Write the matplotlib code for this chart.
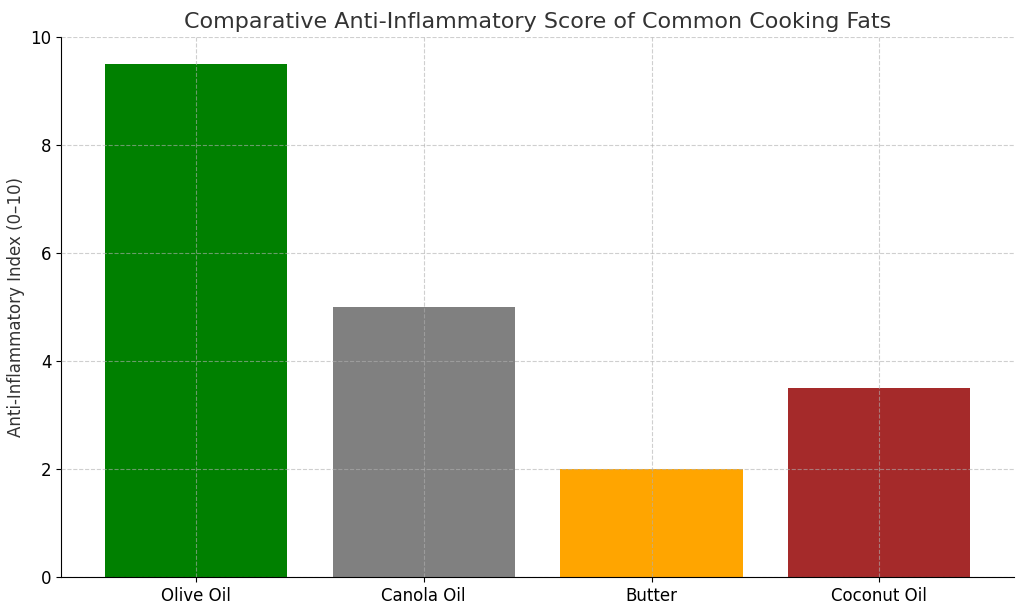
import matplotlib.pyplot as plt

categories = ["Olive Oil", "Canola Oil", "Butter", "Coconut Oil"]
scores = [9.5, 5.0, 2.0, 3.5]
colors = ["green", "gray", "orange", "brown"]

fig, ax = plt.subplots(figsize=(10.24, 6.11), dpi=100)
ax.bar(categories, scores, color=colors, zorder=2)
ax.set_ylim(0, 10)
ax.set_title("Comparative Anti-Inflammatory Score of Common Cooking Fats", fontsize=16, color="#333333")
ax.set_ylabel("Anti-Inflammatory Index (0–10)", fontsize=12, color="#333333")
ax.grid(True, linestyle="--", alpha=0.6, zorder=0)
ax.set_axisbelow(False)
for s in ["top", "right"]:
    ax.spines[s].set_visible(False)
ax.tick_params(labelsize=12)
plt.subplots_adjust(left=0.06, right=0.99, top=0.94, bottom=0.055)
fig.savefig("out.png")
